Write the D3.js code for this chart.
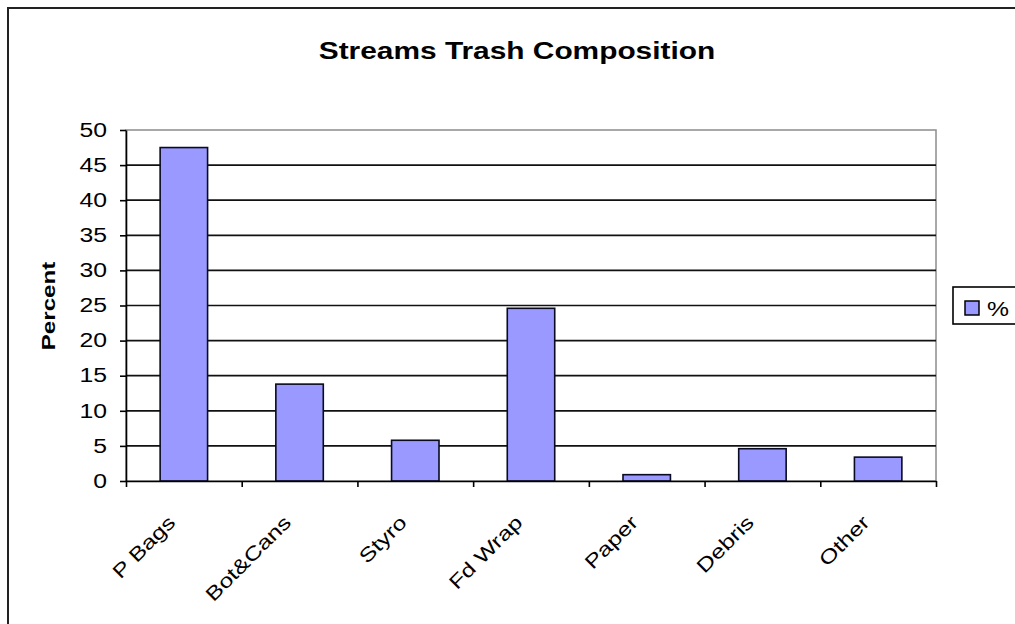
<!DOCTYPE html>
<html>
<head>
<meta charset="utf-8">
<script src="https://cdn.jsdelivr.net/npm/d3@7"></script>
<style>
  body { margin: 0; background: #fff; }
  svg text { font-family: "Liberation Sans", Arial, sans-serif; fill: #000; }
</style>
</head>
<body>
<svg id="chart" width="1015" height="624"></svg>
<script>
// data
const categories = ["P Bags", "Bot&Cans", "Styro", "Fd Wrap", "Paper", "Debris", "Other"];
const percent = [47.5, 13.8, 5.8, 24.6, 0.9, 4.6, 3.4];
const yTicks = [0, 5, 10, 15, 20, 25, 30, 35, 40, 45, 50];
const seriesName = "%";

const stretch = 1.27; // the text in the picture is drawn wide
const barFill = "#9999ff";

const svg = d3.select("#chart");

// outer chart border (runs off right and bottom of the picture)
svg.append("rect")
    .attr("x", 8).attr("y", 8)
    .attr("width", 1100).attr("height", 700)
    .attr("fill", "#fff")
    .attr("stroke", "#222").attr("stroke-width", 2);

const plotL = 126, plotR = 936, plotT = 130, plotB = 481;

const y = d3.scaleLinear().domain([0, 50]).range([plotB, plotT]);
const xSlot = d3.scaleLinear().domain([0, categories.length]).range([plotL, plotR]);
const xBar = d3.scaleBand()
    .domain(categories)
    .range([plotL, plotR])
    .paddingInner(0.59)
    .paddingOuter(0.295);

// plot area border (grey, top + right)
svg.append("rect")
    .attr("x", plotL).attr("y", plotT)
    .attr("width", plotR - plotL).attr("height", plotB - plotT)
    .attr("fill", "none")
    .attr("stroke", "#8c8c8c").attr("stroke-width", 1.5);

// gridlines
svg.append("g").selectAll("line")
    .data(yTicks.filter(d => d > 0 && d < 50))
    .enter().append("line")
    .attr("x1", plotL).attr("x2", plotR)
    .attr("y1", d => y(d)).attr("y2", d => y(d))
    .attr("stroke", "#111").attr("stroke-width", 1.7);

// bars
svg.append("g").selectAll("rect")
    .data(categories)
    .enter().append("rect")
    .attr("x", d => xBar(d))
    .attr("width", xBar.bandwidth())
    .attr("y", (d, i) => y(percent[i]))
    .attr("height", (d, i) => plotB - y(percent[i]))
    .attr("fill", barFill)
    .attr("stroke", "#0a0a20").attr("stroke-width", 1.6);

// y axis
const yAxis = svg.append("g")
    .attr("transform", `translate(${plotL},0)`)
    .call(d3.axisLeft(y).tickValues(yTicks).tickSize(6).tickSizeOuter(0));
yAxis.select(".domain").attr("stroke", "#000").attr("stroke-width", 1.6);
yAxis.selectAll(".tick line").attr("stroke", "#000").attr("stroke-width", 1.6);
yAxis.selectAll(".tick text")
    .attr("x", 0)
    .attr("transform", `translate(-19,0) scale(${stretch},1)`)
    .style("font-size", "19.5px")
    .attr("fill", "#000");

// x axis (ticks at slot boundaries)
const xAxis = svg.append("g")
    .attr("transform", `translate(0,${plotB})`)
    .call(d3.axisBottom(xSlot).tickValues(d3.range(categories.length + 1)).tickFormat("").tickSize(6).tickSizeOuter(0));
xAxis.select(".domain").attr("stroke", "#000").attr("stroke-width", 1.6);
xAxis.selectAll(".tick line").attr("stroke", "#000").attr("stroke-width", 1.6);

// x labels rotated
svg.append("g").selectAll("text")
    .data(categories)
    .enter().append("text")
    .attr("text-anchor", "end")
    .attr("transform", d => `translate(${xBar(d) + xBar.bandwidth() / 2 - 17},${plotB + 33}) rotate(-45) scale(${stretch},1)`)
    .attr("dy", "0.7em")
    .style("font-size", "19.5px")
    .attr("fill", "#222")
    .text(d => d);

// title
svg.append("text")
    .attr("text-anchor", "middle")
    .attr("transform", `translate(517,59) scale(${stretch * 0.98},1)`)
    .style("font-size", "24px").style("font-weight", "bold")
    .text("Streams Trash Composition");

// y axis title
svg.append("text")
    .attr("text-anchor", "middle")
    .attr("transform", `translate(55,306) rotate(-90) scale(${stretch},1)`)
    .style("font-size", "19px").style("font-weight", "bold")
    .text("Percent");

// legend
const legend = svg.append("g");
legend.append("rect")
    .attr("x", 953).attr("y", 287)
    .attr("width", 90).attr("height", 37)
    .attr("fill", "#fff")
    .attr("stroke", "#000").attr("stroke-width", 1.6);
legend.append("rect")
    .attr("x", 965).attr("y", 301)
    .attr("width", 14).attr("height", 14)
    .attr("fill", barFill)
    .attr("stroke", "#000").attr("stroke-width", 1.5);
legend.append("text")
    .attr("transform", `translate(987,316) scale(${stretch},1)`)
    .style("font-size", "19.5px")
    .text(seriesName);
</script>
</body>
</html>
